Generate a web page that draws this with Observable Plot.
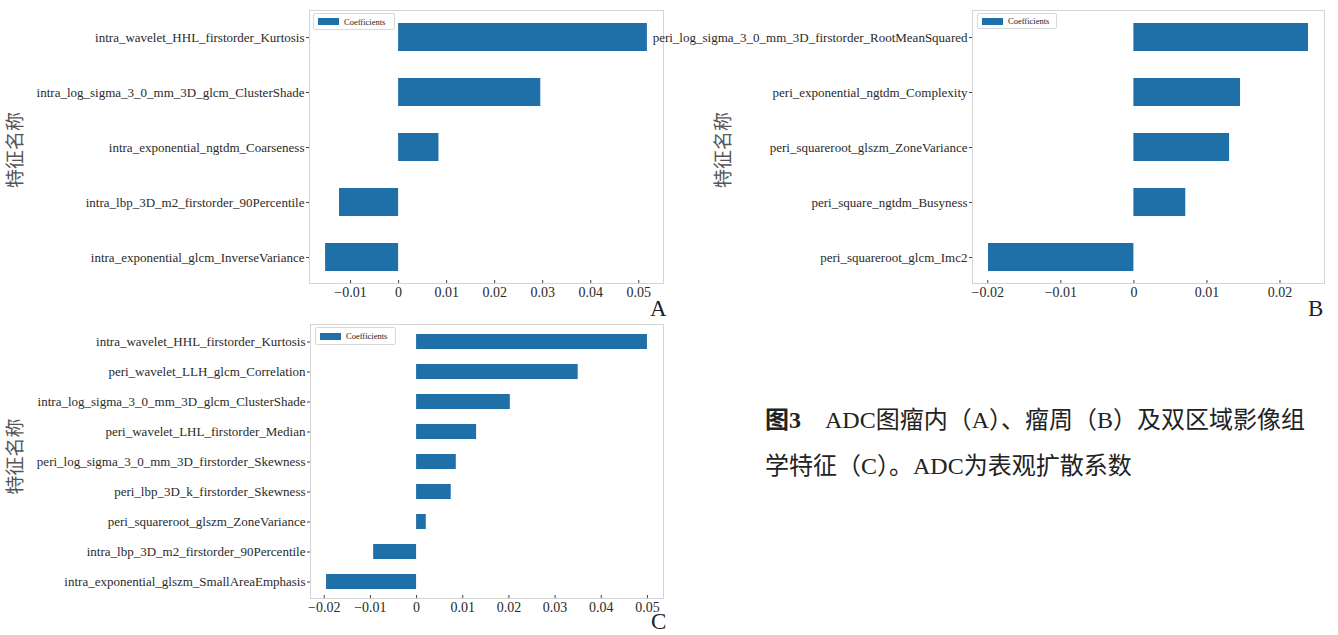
<!DOCTYPE html>
<html>
<head>
<meta charset="utf-8">
<script src="https://cdn.jsdelivr.net/npm/d3@7"></script>
<script src="https://cdn.jsdelivr.net/npm/@observablehq/plot@0.6"></script>
<style>
  html, body { margin: 0; padding: 0; background: #fff; }
  #fig { position: relative; width: 1338px; height: 635px; overflow: hidden; font-family: "Liberation Serif", "Noto Sans CJK SC", serif; }
  .legend { position: absolute; box-sizing: border-box; border: 1px solid #d8d8d8; border-radius: 2px; background: #fff;
            display: flex; align-items: center; font-size: 8.5px; color: #222; white-space: nowrap; }
  .legend .sw { display: inline-block; width: 21px; height: 7px; margin: 0 5px 0 4px; }
  .letter { position: absolute; font-size: 23px; line-height: 16px; color: #222; }
  .caption { position: absolute; left: 765px; top: 397px; font-size: 24px; line-height: 46px; color: #222; white-space: nowrap; }
  .caption b { font-weight: bold; }
</style>
</head>
<body>
<div id="fig"></div>
<script>
// LASSO-selected radiomic features and their coefficients
const namesA = [
  "intra_wavelet_HHL_firstorder_Kurtosis",
  "intra_log_sigma_3_0_mm_3D_glcm_ClusterShade",
  "intra_exponential_ngtdm_Coarseness",
  "intra_lbp_3D_m2_firstorder_90Percentile",
  "intra_exponential_glcm_InverseVariance"
];
const coefA = [0.0518, 0.0296, 0.0084, -0.0123, -0.0152];

const namesB = [
  "peri_log_sigma_3_0_mm_3D_firstorder_RootMeanSquared",
  "peri_exponential_ngtdm_Complexity",
  "peri_squareroot_glszm_ZoneVariance",
  "peri_square_ngtdm_Busyness",
  "peri_squareroot_glcm_Imc2"
];
const coefB = [0.0239, 0.0146, 0.0131, 0.0071, -0.0199];

const namesC = [
  "intra_wavelet_HHL_firstorder_Kurtosis",
  "peri_wavelet_LLH_glcm_Correlation",
  "intra_log_sigma_3_0_mm_3D_glcm_ClusterShade",
  "peri_wavelet_LHL_firstorder_Median",
  "peri_log_sigma_3_0_mm_3D_firstorder_Skewness",
  "peri_lbp_3D_k_firstorder_Skewness",
  "peri_squareroot_glszm_ZoneVariance",
  "intra_lbp_3D_m2_firstorder_90Percentile",
  "intra_exponential_glszm_SmallAreaEmphasis"
];
const coefC = [0.0500, 0.0350, 0.0203, 0.0130, 0.0086, 0.0075, 0.0021, -0.0093, -0.0195];

const ticksA = [-0.01, 0, 0.01, 0.02, 0.03, 0.04, 0.05];
const ticksB = [-0.02, -0.01, 0, 0.01, 0.02];
const ticksC = [-0.02, -0.01, 0, 0.01, 0.02, 0.03, 0.04, 0.05];

const yTitle = "特征名称";
const seriesName = "Coefficients";
const barColor = "#1f70a9";

const fmt = d => d === 0 ? "0" : d3.format(".2f")(d);

function coefficientChart({names, coef, ticks, width, height, ml, mr, mt, mb, titleDx, titleDy}) {
  const rows = names.map((name, i) => ({name, coef: coef[i]}));
  const [lo, hi] = d3.extent([0, ...coef]);
  const pad = (hi - lo) * 0.05;
  const frameW = width - ml - mr;
  const frameH = height - mt - mb;
  return Plot.plot({
    width, height,
    marginLeft: ml, marginRight: mr, marginTop: mt, marginBottom: mb,
    style: {fontFamily: "Liberation Serif, serif", fontSize: "13px", color: "#2a2a2a", background: "transparent"},
    x: {domain: [lo - pad, hi + pad], label: null},
    y: {domain: names, paddingInner: 0.5, paddingOuter: 0.225, label: null},
    marks: [
      Plot.barX(rows, {x: "coef", y: "name", fill: barColor}),
      // light top/right box, dark left/bottom spines
      Plot.frame({stroke: "#d4d4d4"}),
      Plot.frame({stroke: "#333", insetTop: frameH}),
      Plot.frame({stroke: "#333", insetRight: frameW}),
      // inward x ticks
      Plot.ruleX(ticks, {stroke: "#444", insetTop: frameH - 3}),
      Plot.axisX({ticks, tickFormat: fmt, tickSize: 0, tickPadding: 4, fontSize: 14, label: null}),
      Plot.axisY({tickSize: 3, tickPadding: 2, fontSize: 13, label: null, stroke: "#444"}),
      Plot.text([yTitle], {text: d => d, frameAnchor: "left", textAnchor: "middle", dx: titleDx, dy: titleDy, rotate: -90,
        fontSize: 19, fill: "#555", fontFamily: "Noto Sans CJK SC"})
    ]
  });
}

const fig = document.getElementById("fig");
function place(node, left, top) {
  node.style.position = "absolute";
  node.style.left = left + "px";
  node.style.top = top + "px";
  fig.appendChild(node);
}
function legend(left, top, w, h) {
  const div = document.createElement("div");
  div.className = "legend";
  div.style.left = left + "px"; div.style.top = top + "px";
  div.style.width = w + "px"; div.style.height = h + "px";
  const sw = document.createElement("span");
  sw.className = "sw"; sw.style.background = barColor;
  div.appendChild(sw);
  div.appendChild(document.createTextNode(seriesName));
  fig.appendChild(div);
}
function letter(text, left, top) {
  const div = document.createElement("div");
  div.className = "letter";
  div.textContent = text;
  div.style.left = left + "px"; div.style.top = top + "px";
  fig.appendChild(div);
}

place(coefficientChart({names: namesA, coef: coefA, ticks: ticksA, width: 670, height: 320,
  ml: 309, mr: 7, mt: 10, mb: 37, titleDx: -294, titleDy: 3}), 0, 0);
place(coefficientChart({names: namesB, coef: coefB, ticks: ticksB, width: 690, height: 320,
  ml: 332, mr: 6, mt: 10, mb: 37, titleDx: -249, titleDy: 3}), 640, 0);
place(coefficientChart({names: namesC, coef: coefC, ticks: ticksC, width: 670, height: 321,
  ml: 310, mr: 7, mt: 10, mb: 37, titleDx: -295, titleDy: -5}), 0, 314);

legend(313, 13, 82, 17);
legend(977, 13, 80, 16);
legend(315, 327, 81, 18);

letter("A", 650, 301);
letter("B", 1308, 301);
letter("C", 651, 614);

const cap = document.createElement("div");
cap.className = "caption";
cap.innerHTML = "<b>图3</b>　ADC图瘤内（A）、瘤周（B）及双区域影像组<br>学特征（C）。ADC为表观扩散系数";
fig.appendChild(cap);
</script>
</body>
</html>
